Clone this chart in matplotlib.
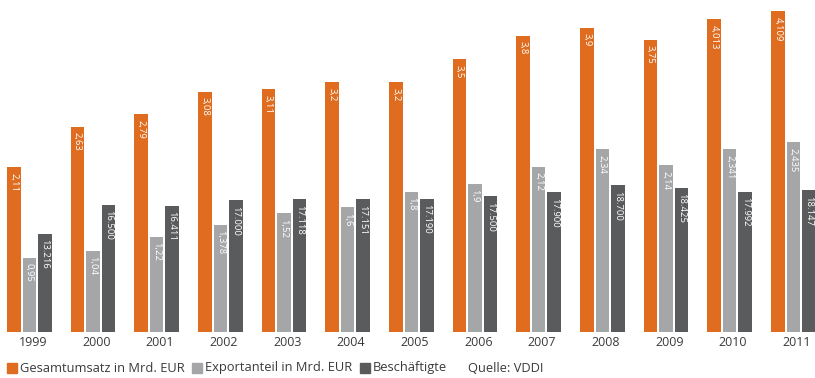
import matplotlib
matplotlib.use("Agg")
import matplotlib.pyplot as plt
import numpy as np
from matplotlib.patches import Rectangle

plt.rcParams['font.family'] = ['Open Sans', 'DejaVu Sans']

years = ["1999", "2000", "2001", "2002", "2003", "2004", "2005",
         "2006", "2007", "2008", "2009", "2010", "2011"]
umsatz = [2.11, 2.63, 2.79, 3.08, 3.11, 3.2, 3.2, 3.5, 3.8, 3.9, 3.75, 4.013, 4.109]
export = [0.95, 1.04, 1.22, 1.378, 1.52, 1.6, 1.8, 1.9, 2.12, 2.34, 2.14, 2.341, 2.435]
beschaeftigte = [13216, 16500, 16411, 17000, 17118, 17151, 17190,
                 17500, 17900, 18700, 18425, 17992, 18147]
umsatz_labels = ["2,11", "2,63", "2,79", "3,08", "3,11", "3,2", "3,2",
                 "3,5", "3,8", "3,9", "3,75", "4,013", "4,109"]
export_labels = ["0,95", "1,04", "1,22", "1,378", "1,52", "1,6", "1,8",
                 "1,9", "2,12", "2,34", "2,14", "2,341", "2,435"]
besch_labels = ["13.216", "16.500", "16.411", "17.000", "17.118", "17.151", "17.190",
                "17.500", "17.900", "18.700", "18.425", "17.992", "18.147"]
legend_labels = ["Gesamtumsatz in Mrd. EUR", "Exportanteil in Mrd. EUR", "Beschäftigte"]
source = "Quelle: VDDI"

C_ORANGE = "#DF6C1F"
C_LIGHT = "#A4A6A8"
C_DARK = "#595B5D"
C_TEXT = "#3A3A3A"

W, H = 815, 378
fig = plt.figure(figsize=(W / 100, H / 100), dpi=100)
base_px = 332
ax = fig.add_axes([0, (H - base_px) / H, 1, base_px / H])
ax2 = ax.twinx()

px_per_group = 63.67
x = np.arange(len(years))
pitch = 15.5 / px_per_group
width = 13.5 / px_per_group

ax.set_xlim(-29.25 / px_per_group, (W - 29.25) / px_per_group)
ax.set_ylim(0, base_px / 78.0)
ax2.set_ylim(2045, 2045 + base_px / 0.0088)

b1 = ax.bar(x - pitch, umsatz, width, color=C_ORANGE, zorder=2)
b2 = ax.bar(x, export, width, color=C_LIGHT, zorder=2)
b3 = ax2.bar(x + pitch, beschaeftigte, width, color=C_DARK, zorder=2)

lbl_kw = dict(rotation=-90, ha="center", va="top", color="white", fontsize=6.8)
for bars, labels, a in ((b1, umsatz_labels, ax), (b2, export_labels, ax), (b3, besch_labels, ax2)):
    for rect, lab in zip(bars, labels):
        a.annotate(lab, (rect.get_x() + rect.get_width() / 2, rect.get_height()),
                   xytext=(0, -4), textcoords="offset points", **lbl_kw)

for a in (ax, ax2):
    a.axis("off")

# year labels below each group
for xi, yr in zip(x, years):
    ax.annotate(yr, (xi + 3.5 / px_per_group, 0), xytext=(0, -3), textcoords="offset points",
                ha="center", va="top", fontsize=9, color=C_TEXT)

# legend row
leg_y = (H - 368) / H
sq = 10
items = [(7, C_ORANGE, legend_labels[0]), (192, C_LIGHT, legend_labels[1]),
         (360, C_DARK, legend_labels[2])]
for xp, col, txt in items:
    fig.patches.append(Rectangle((xp / W, leg_y - sq / 2 / H), sq / W, sq / H,
                                 transform=fig.transFigure, color=col))
    fig.text((xp + sq + 3) / W, leg_y, txt, ha="left", va="center",
             fontsize=9.3, color=C_TEXT)
fig.text(468 / W, leg_y, source, ha="left", va="center", fontsize=9.3, color=C_TEXT)

fig.savefig("out.png", dpi=100, facecolor="white")
